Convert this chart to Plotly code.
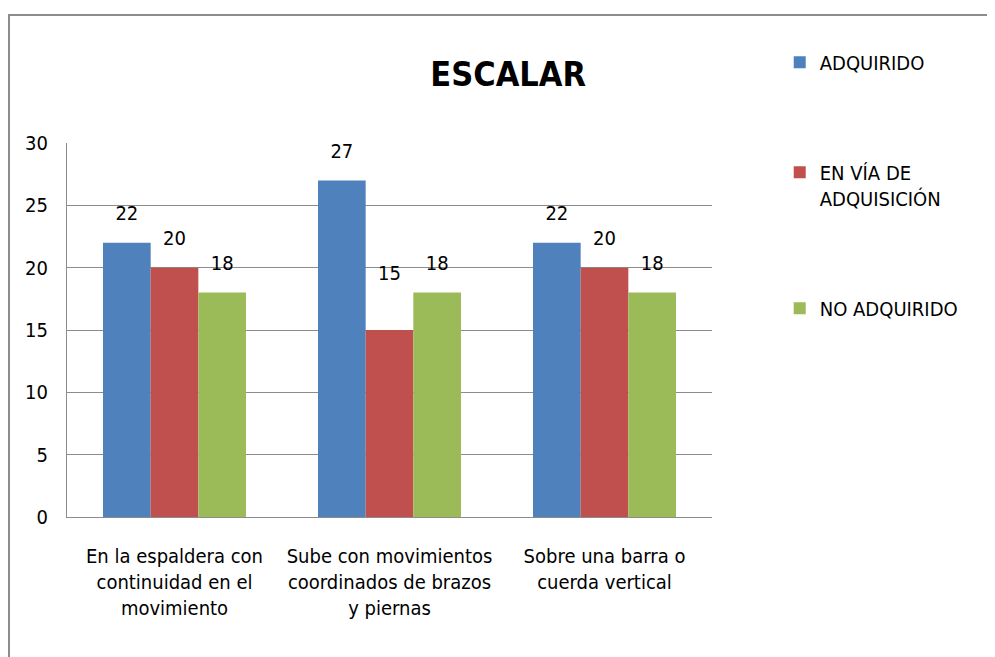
"""Excel-style grouped bar chart: ESCALAR."""

import plotly.graph_objects as go

categories = [
    "En la espaldera con<br>continuidad en el<br>movimiento",
    "Sube con movimientos<br>coordinados de brazos<br>y piernas",
    "Sobre una barra o<br>cuerda vertical",
]
adquirido = [22, 27, 22]
en_via = [20, 15, 20]
no_adquirido = [18, 18, 18]

series = [
    ("ADQUIRIDO", adquirido, "#4F81BD"),
    ("EN VÍA DE<br>ADQUISICIÓN", en_via, "#C0504D"),
    ("NO ADQUIRIDO", no_adquirido, "#9BBB59"),
]
# label lift (invisible marker size) per point; Excel pushed the "15" up
label_lift = [
    [27, 27, 27],
    [27, 70, 27],
    [27, 27, 27],
]

FONT = "Liberation Sans Narrow, DejaVu Sans Condensed, Arial Narrow, sans-serif"
GRID = "#8C8C8C"

fig = go.Figure()
for i, (name, values, color) in enumerate(series):
    fig.add_trace(
        go.Bar(
            x=categories,
            y=values,
            name=name,
            marker=dict(color=color, line_width=0),
            offsetgroup=str(i),
            legendgroup=str(i),
        )
    )
    # data labels, lifted above the bar tops
    fig.add_trace(
        go.Scatter(
            x=categories,
            y=values,
            mode="markers+text",
            text=[str(v) for v in values],
            textposition="top center",
            textfont=dict(size=20, color="#000000", family=FONT),
            marker=dict(size=label_lift[i], opacity=0),
            offsetgroup=str(i),
            showlegend=False,
            hoverinfo="skip",
            cliponaxis=False,
        )
    )

fig.update_layout(
    width=987,
    height=649,
    barmode="group",
    scattermode="group",
    bargap=0.335,
    bargroupgap=0,
    paper_bgcolor="white",
    plot_bgcolor="white",
    font=dict(family=FONT, size=20, color="#000000"),
    margin=dict(l=59, r=283, t=135, b=140),
    title=dict(
        text="<b>ESCALAR</b>",
        font=dict(size=34, family=FONT, color="#000000"),
        x=0.684,
        xref="paper",
        xanchor="center",
        y=1 - 66 / 649,
        yref="container",
        yanchor="middle",
    ),
    legend=dict(
        x=1.105,
        xanchor="left",
        y=1.268,
        yanchor="top",
        traceorder="grouped",
        tracegroupgap=81,
        valign="top",
        font=dict(size=20, family=FONT),
        bgcolor="rgba(0,0,0,0)",
    ),
    showlegend=True,
    shapes=[
        dict(
            type="rect",
            xref="paper",
            yref="paper",
            x0=-0.0899,
            x1=1.6,
            y0=-0.6,
            y1=1.342,
            line=dict(color="#8C8C8C", width=2),
            fillcolor="rgba(0,0,0,0)",
            layer="below",
        )
    ],
)

fig.update_yaxes(
    range=[0, 30],
    dtick=5,
    showgrid=True,
    gridcolor=GRID,
    gridwidth=1,
    showline=True,
    linecolor=GRID,
    linewidth=1,
    zeroline=False,
    ticks="",
    ticklabelstandoff=14,
    tickfont=dict(size=20),
)
fig.update_xaxes(
    showline=True,
    linecolor=GRID,
    linewidth=1,
    mirror=False,
    ticks="",
    ticklabelstandoff=21,
    tickfont=dict(size=20),
)

fig.write_html("out.html")
